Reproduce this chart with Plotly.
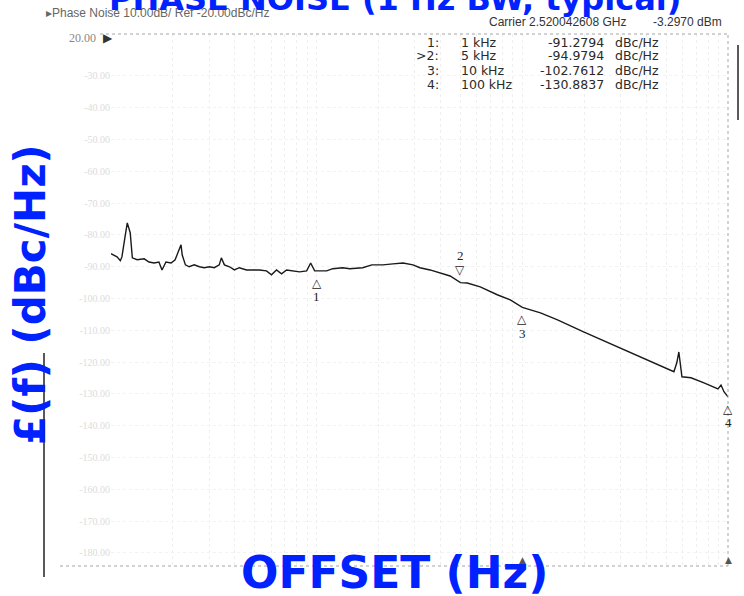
import numpy as np
import plotly.graph_objects as go

# ---- data ----
freq_hz = [100, 107, 111, 113, 117, 120, 124, 127, 134, 145, 153, 162, 171, 177, 185, 196,
           205, 212, 219, 222, 230, 240, 254, 269, 284, 301, 318, 336, 344, 356, 377, 398,
           421, 456, 488, 527, 570, 603, 638, 675, 714, 764, 826, 894, 935, 978, 1000, 1035,
           1119, 1197, 1339, 1448, 1675, 1854, 2097, 2349, 2630, 2940, 3178, 3557, 3981,
           4454, 5000, 5395, 6242, 7551, 8738, 10000, 12250, 14830, 19850, 26020, 31120,
           37660, 45600, 54570, 56370, 57680, 59700, 66070, 76420, 89350, 92480, 95570, 100000]
noise_dbc = [-85.9, -86.9, -88.1, -86.9, -80.6, -76.2, -79.3, -87.2, -87.8, -87.5, -88.5, -88.8,
             -88.5, -91.0, -88.5, -88.8, -87.8, -85.6, -83.1, -86.3, -89.4, -90.0, -89.4, -90.0,
             -90.3, -90.0, -90.3, -89.4, -87.2, -89.4, -90.0, -91.0, -90.3, -91.0, -91.0, -91.0,
             -91.3, -92.5, -91.0, -92.2, -91.0, -91.3, -91.6, -91.3, -88.8, -91.3, -91.28, -91.3,
             -91.3, -90.6, -90.3, -90.6, -90.3, -89.4, -89.4, -89.1, -88.8, -89.4, -90.3, -91.0,
             -91.9, -92.9, -94.98, -95.1, -96.3, -98.8, -100.4, -102.76, -104.5, -106.7, -110.5,
             -113.9, -116.1, -118.6, -120.8, -123.0, -120.2, -116.8, -124.6, -124.9, -126.5,
             -128.4, -127.2, -129.3, -130.88]

marker_ids = ["1", "2", "3", "4"]
marker_freq = [1000, 5000, 10000, 100000]
marker_freq_txt = ["1 kHz", "5 kHz", "10 kHz", "100 kHz"]
marker_vals = [-91.2794, -94.9794, -102.7612, -130.8837]
marker_above = [False, True, False, False]

ytick_vals = [-30, -40, -50, -60, -70, -80, -90, -100, -110, -120, -130, -140, -150, -160, -170, -180]

BLUE = "#0022ff"

fig = go.Figure()
fig.add_trace(go.Scatter(x=freq_hz, y=noise_dbc, mode="lines",
                         line=dict(color="#1a1a1a", width=1.4), showlegend=False,
                         hoverinfo="skip", cliponaxis=False))

# markers on the trace
for mid, f, v, up in zip(marker_ids, marker_freq, marker_vals, marker_above):
    lx = np.log10(f)
    sym = "▽" if up else "△"
    s1, s2 = (13, 27) if up else (-12, -26)
    fig.add_annotation(x=lx, y=v, xref="x", yref="y", text=sym, showarrow=False,
                       yshift=s1, font=dict(family="DejaVu Sans", size=12, color="#222"))
    fig.add_annotation(x=lx, y=v, xref="x", yref="y", text=mid, showarrow=False,
                       yshift=s2, font=dict(family="Liberation Serif", size=13, color="#222"))

# small marker indicators on bottom edge
for f in marker_freq[2:]:
    fig.add_annotation(x=np.log10(f), y=0, xref="x", yref="paper", text="▲", showarrow=False,
                       yshift=-1, font=dict(family="DejaVu Sans", size=9, color="#555"))

# marker table
row_y = [42, 56, 70, 84]
top, bottom = 34.0, 566.0
def py(p):
    return (bottom - p) / (bottom - top)
L, R = 111.0, 728.0
def px(p):
    return (p - L) / (R - L)

tf = dict(family="DejaVu Sans", size=12.5, color="#2a2a2a")
for i, (mid, ft, v) in enumerate(zip(marker_ids, marker_freq_txt, marker_vals)):
    lab = (">" if mid == "2" else "") + mid + ":"
    fig.add_annotation(x=px(441), y=py(row_y[i]), xref="paper", yref="paper", text=lab,
                       showarrow=False, xanchor="right", yanchor="middle", font=tf)
    fig.add_annotation(x=px(459), y=py(row_y[i]), xref="paper", yref="paper", text=ft,
                       showarrow=False, xanchor="left", yanchor="middle", font=tf)
    fig.add_annotation(x=px(606), y=py(row_y[i]), xref="paper", yref="paper",
                       text=f"{v:.4f}", showarrow=False, xanchor="right", yanchor="middle", font=tf)
    fig.add_annotation(x=px(613), y=py(row_y[i]), xref="paper", yref="paper", text="dBc/Hz",
                       showarrow=False, xanchor="left", yanchor="middle", font=tf)

# header texts
fig.add_annotation(x=px(44), y=py(13), xref="paper", yref="paper",
                   text="▸Phase Noise 10.00dB/ Ref -20.00dBc/Hz", showarrow=False,
                   xanchor="left", yanchor="middle",
                   font=dict(family="Liberation Sans", size=12, color="#666"))
fig.add_annotation(x=px(487), y=py(22), xref="paper", yref="paper",
                   text="Carrier 2.520042608 GHz", showarrow=False, xanchor="left",
                   yanchor="middle", font=dict(family="Liberation Sans", size=12, color="#333"))
fig.add_annotation(x=px(724), y=py(22), xref="paper", yref="paper",
                   text="-3.2970 dBm", showarrow=False, xanchor="right",
                   yanchor="middle", font=dict(family="Liberation Sans", size=12, color="#333"))
fig.add_annotation(x=px(98), y=py(38), xref="paper", yref="paper", text="20.00",
                   showarrow=False, xanchor="right", yanchor="middle",
                   font=dict(family="Liberation Serif", size=12, color="#888"))
fig.add_annotation(x=px(101), y=py(38), xref="paper", yref="paper", text="▶",
                   showarrow=False, xanchor="left", yanchor="middle",
                   font=dict(family="DejaVu Sans", size=12, color="#333"))

# blue titles
fig.add_annotation(x=px(395), y=py(-1), xref="paper", yref="paper",
                   text="<b>PHASE NOISE (1 Hz BW, typical)</b>", showarrow=False,
                   xanchor="center", yanchor="middle",
                   font=dict(family="DejaVu Sans", size=32, color=BLUE))
fig.add_annotation(x=px(394), y=py(572), xref="paper", yref="paper",
                   text="<b>OFFSET (Hz)</b>", showarrow=False,
                   xanchor="center", yanchor="middle",
                   font=dict(family="DejaVu Sans", size=44, color=BLUE))
fig.add_annotation(x=px(30), y=py(295), xref="paper", yref="paper",
                   text="<b>£(f) (dBc/Hz)</b>", showarrow=False, textangle=-90,
                   xanchor="center", yanchor="middle",
                   font=dict(family="DejaVu Sans", size=42, color=BLUE))

# frame lines
shapes = [
    dict(type="line", xref="paper", yref="paper", x0=px(100), x1=1, y0=1, y1=1,
         line=dict(color="#a5a5a5", width=1, dash="dot")),
    dict(type="line", xref="paper", yref="paper", x0=px(60), x1=1, y0=0, y1=0,
         line=dict(color="#a5a5a5", width=1, dash="dot")),
    dict(type="line", xref="paper", yref="paper", x0=1, x1=1, y0=0, y1=1,
         line=dict(color="#a5a5a5", width=1, dash="dot")),
    dict(type="line", xref="paper", yref="paper", x0=px(44), x1=px(44), y0=py(353), y1=py(577),
         line=dict(color="#222", width=1.5)),
    dict(type="line", xref="paper", yref="paper", x0=px(738), x1=px(738), y0=py(45), y1=py(120),
         line=dict(color="#222", width=1.5)),
]

fig.update_layout(
    width=744, height=596, autosize=False,
    margin=dict(l=111, r=16, t=34, b=30),
    paper_bgcolor="white", plot_bgcolor="white",
    showlegend=False, shapes=shapes, hovermode=False,
    xaxis=dict(type="log", range=[2, 5], showgrid=True, gridcolor="#efefef", griddash="dot",
               dtick="D1", showticklabels=False, ticks="", zeroline=False, showline=False),
    yaxis=dict(range=[-184.1, -16.8], tickvals=ytick_vals,
               ticktext=[f"{v:.2f}" for v in ytick_vals], showgrid=True, gridcolor="#f2f2f2",
               griddash="dot", tickfont=dict(family="Liberation Serif", size=10, color="#dcdcdc"),
               ticks="", zeroline=False, showline=False),
)

fig.write_html("out.html", config={"displayModeBar": False},
               post_script="document.body.style.margin='0';document.body.style.overflow='hidden';")
